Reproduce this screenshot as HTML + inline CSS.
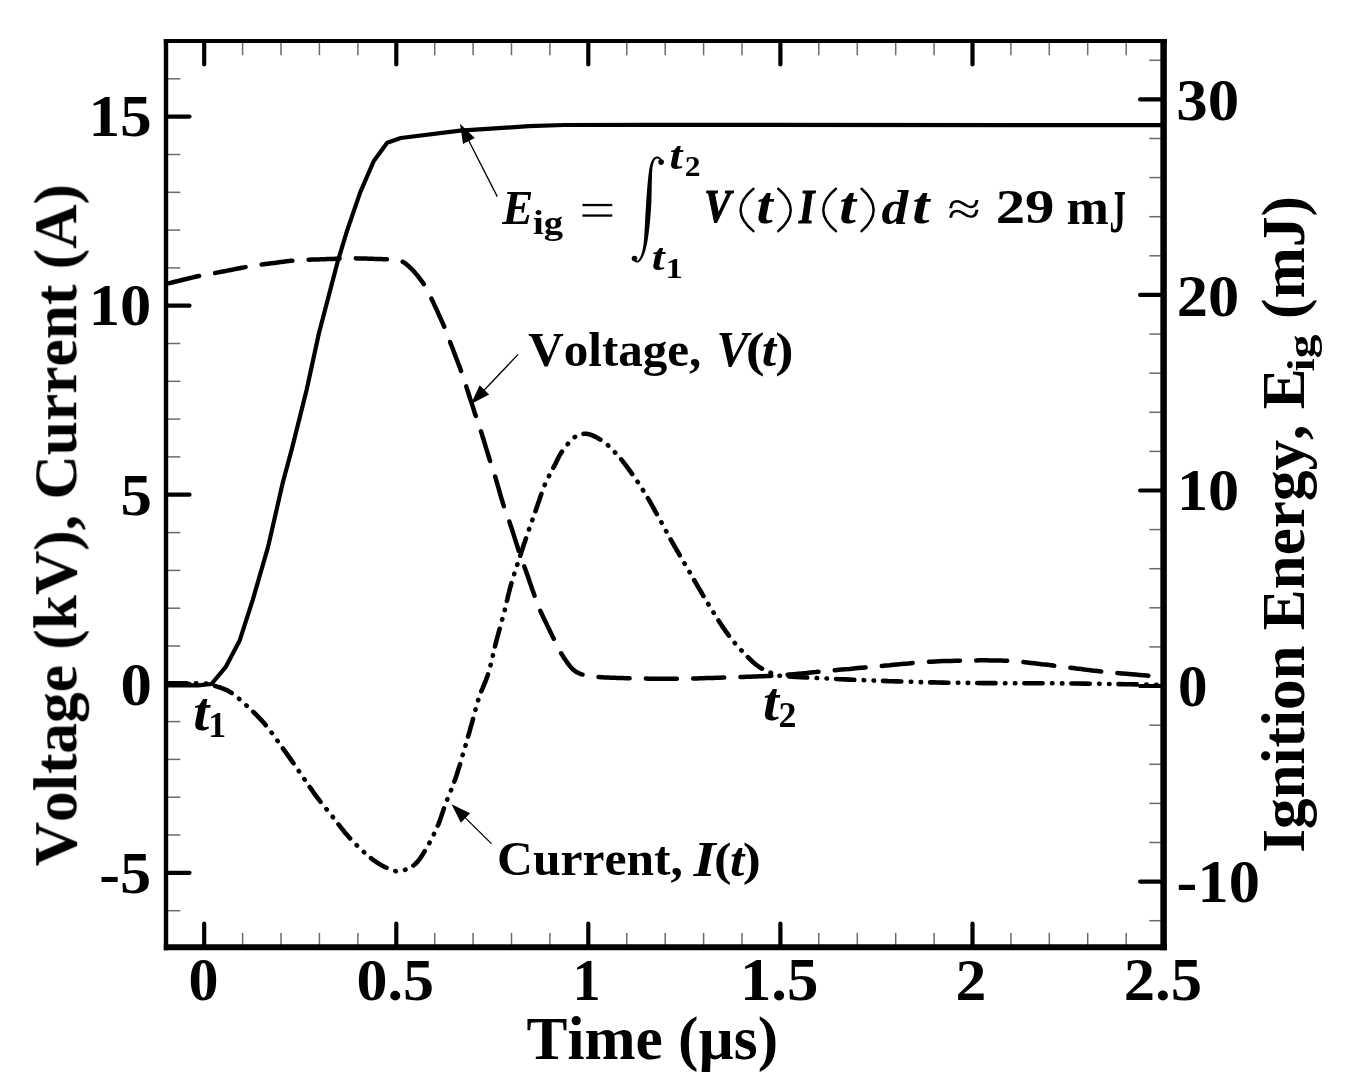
<!DOCTYPE html>
<html><head><meta charset="utf-8"><style>
html,body{margin:0;padding:0;background:#fff;width:1347px;height:1091px;overflow:hidden}
text{font-kerning:none}
</style></head><body>
<svg width="1347" height="1091" viewBox="0 0 1347 1091" style="display:block">
<rect width="1347" height="1091" fill="#fff"/>
<g stroke="#6a6a6a" stroke-width="1.5" fill="none">
<line x1="242.6" y1="947.2" x2="242.6" y2="932.9"/>
<line x1="242.6" y1="41.0" x2="242.6" y2="55.3"/>
<line x1="281.0" y1="947.2" x2="281.0" y2="932.9"/>
<line x1="281.0" y1="41.0" x2="281.0" y2="55.3"/>
<line x1="319.4" y1="947.2" x2="319.4" y2="932.9"/>
<line x1="319.4" y1="41.0" x2="319.4" y2="55.3"/>
<line x1="357.9" y1="947.2" x2="357.9" y2="932.9"/>
<line x1="357.9" y1="41.0" x2="357.9" y2="55.3"/>
<line x1="434.7" y1="947.2" x2="434.7" y2="932.9"/>
<line x1="434.7" y1="41.0" x2="434.7" y2="55.3"/>
<line x1="473.1" y1="947.2" x2="473.1" y2="932.9"/>
<line x1="473.1" y1="41.0" x2="473.1" y2="55.3"/>
<line x1="511.5" y1="947.2" x2="511.5" y2="932.9"/>
<line x1="511.5" y1="41.0" x2="511.5" y2="55.3"/>
<line x1="549.9" y1="947.2" x2="549.9" y2="932.9"/>
<line x1="549.9" y1="41.0" x2="549.9" y2="55.3"/>
<line x1="626.8" y1="947.2" x2="626.8" y2="932.9"/>
<line x1="626.8" y1="41.0" x2="626.8" y2="55.3"/>
<line x1="665.2" y1="947.2" x2="665.2" y2="932.9"/>
<line x1="665.2" y1="41.0" x2="665.2" y2="55.3"/>
<line x1="703.6" y1="947.2" x2="703.6" y2="932.9"/>
<line x1="703.6" y1="41.0" x2="703.6" y2="55.3"/>
<line x1="742.0" y1="947.2" x2="742.0" y2="932.9"/>
<line x1="742.0" y1="41.0" x2="742.0" y2="55.3"/>
<line x1="818.8" y1="947.2" x2="818.8" y2="932.9"/>
<line x1="818.8" y1="41.0" x2="818.8" y2="55.3"/>
<line x1="857.3" y1="947.2" x2="857.3" y2="932.9"/>
<line x1="857.3" y1="41.0" x2="857.3" y2="55.3"/>
<line x1="895.7" y1="947.2" x2="895.7" y2="932.9"/>
<line x1="895.7" y1="41.0" x2="895.7" y2="55.3"/>
<line x1="934.1" y1="947.2" x2="934.1" y2="932.9"/>
<line x1="934.1" y1="41.0" x2="934.1" y2="55.3"/>
<line x1="1010.9" y1="947.2" x2="1010.9" y2="932.9"/>
<line x1="1010.9" y1="41.0" x2="1010.9" y2="55.3"/>
<line x1="1049.3" y1="947.2" x2="1049.3" y2="932.9"/>
<line x1="1049.3" y1="41.0" x2="1049.3" y2="55.3"/>
<line x1="1087.7" y1="947.2" x2="1087.7" y2="932.9"/>
<line x1="1087.7" y1="41.0" x2="1087.7" y2="55.3"/>
<line x1="1126.2" y1="947.2" x2="1126.2" y2="932.9"/>
<line x1="1126.2" y1="41.0" x2="1126.2" y2="55.3"/>
<line x1="166.0" y1="910.7" x2="180.3" y2="910.7"/>
<line x1="166.0" y1="835.0" x2="180.3" y2="835.0"/>
<line x1="166.0" y1="797.2" x2="180.3" y2="797.2"/>
<line x1="166.0" y1="759.4" x2="180.3" y2="759.4"/>
<line x1="166.0" y1="721.6" x2="180.3" y2="721.6"/>
<line x1="166.0" y1="646.0" x2="180.3" y2="646.0"/>
<line x1="166.0" y1="608.2" x2="180.3" y2="608.2"/>
<line x1="166.0" y1="570.4" x2="180.3" y2="570.4"/>
<line x1="166.0" y1="532.6" x2="180.3" y2="532.6"/>
<line x1="166.0" y1="456.9" x2="180.3" y2="456.9"/>
<line x1="166.0" y1="419.1" x2="180.3" y2="419.1"/>
<line x1="166.0" y1="381.3" x2="180.3" y2="381.3"/>
<line x1="166.0" y1="343.5" x2="180.3" y2="343.5"/>
<line x1="166.0" y1="267.9" x2="180.3" y2="267.9"/>
<line x1="166.0" y1="230.1" x2="180.3" y2="230.1"/>
<line x1="166.0" y1="192.3" x2="180.3" y2="192.3"/>
<line x1="166.0" y1="154.5" x2="180.3" y2="154.5"/>
<line x1="166.0" y1="78.8" x2="180.3" y2="78.8"/>
<line x1="1163.6" y1="920.7" x2="1149.3" y2="920.7"/>
<line x1="1163.6" y1="842.5" x2="1149.3" y2="842.5"/>
<line x1="1163.6" y1="803.4" x2="1149.3" y2="803.4"/>
<line x1="1163.6" y1="764.3" x2="1149.3" y2="764.3"/>
<line x1="1163.6" y1="725.2" x2="1149.3" y2="725.2"/>
<line x1="1163.6" y1="646.9" x2="1149.3" y2="646.9"/>
<line x1="1163.6" y1="607.8" x2="1149.3" y2="607.8"/>
<line x1="1163.6" y1="568.7" x2="1149.3" y2="568.7"/>
<line x1="1163.6" y1="529.6" x2="1149.3" y2="529.6"/>
<line x1="1163.6" y1="451.4" x2="1149.3" y2="451.4"/>
<line x1="1163.6" y1="412.3" x2="1149.3" y2="412.3"/>
<line x1="1163.6" y1="373.2" x2="1149.3" y2="373.2"/>
<line x1="1163.6" y1="334.1" x2="1149.3" y2="334.1"/>
<line x1="1163.6" y1="255.8" x2="1149.3" y2="255.8"/>
<line x1="1163.6" y1="216.7" x2="1149.3" y2="216.7"/>
<line x1="1163.6" y1="177.6" x2="1149.3" y2="177.6"/>
<line x1="1163.6" y1="138.5" x2="1149.3" y2="138.5"/>
<line x1="1163.6" y1="60.3" x2="1149.3" y2="60.3"/>
</g>
<g stroke="#000" stroke-width="4.2" stroke-linecap="round" fill="none">
<line x1="204.2" y1="947.2" x2="204.2" y2="923.7"/>
<line x1="204.2" y1="41.0" x2="204.2" y2="64.5"/>
<line x1="396.3" y1="947.2" x2="396.3" y2="923.7"/>
<line x1="396.3" y1="41.0" x2="396.3" y2="64.5"/>
<line x1="588.3" y1="947.2" x2="588.3" y2="923.7"/>
<line x1="588.3" y1="41.0" x2="588.3" y2="64.5"/>
<line x1="780.4" y1="947.2" x2="780.4" y2="923.7"/>
<line x1="780.4" y1="41.0" x2="780.4" y2="64.5"/>
<line x1="972.5" y1="947.2" x2="972.5" y2="923.7"/>
<line x1="972.5" y1="41.0" x2="972.5" y2="64.5"/>
<line x1="166.0" y1="872.8" x2="189.5" y2="872.8"/>
<line x1="166.0" y1="683.8" x2="189.5" y2="683.8"/>
<line x1="166.0" y1="494.7" x2="189.5" y2="494.7"/>
<line x1="166.0" y1="305.7" x2="189.5" y2="305.7"/>
<line x1="166.0" y1="116.6" x2="189.5" y2="116.6"/>
<line x1="1163.6" y1="881.6" x2="1140.1" y2="881.6"/>
<line x1="1163.6" y1="686.0" x2="1140.1" y2="686.0"/>
<line x1="1163.6" y1="490.5" x2="1140.1" y2="490.5"/>
<line x1="1163.6" y1="294.9" x2="1140.1" y2="294.9"/>
<line x1="1163.6" y1="99.4" x2="1140.1" y2="99.4"/>
</g>
<g fill="none" stroke="#000" stroke-linejoin="round">
<polyline points="166.0,685.4 198.0,685.4 211.5,684.0 225.6,667.2 239.8,640.2 252.6,600.4 268.2,546.4 282.5,483.8 292.4,446.9 306.6,390.0 318.8,333.7 337.5,262.2 347.1,230.6 360.3,192.1 373.8,161.0 387.2,142.7 400.8,138.0 460.2,130.6 528.5,126.2 564.1,125.0 650.0,124.9 1163.6,125.1" stroke-width="4.2"/>
<polyline points="166.0,284.0 167.6,283.6 169.6,283.1 172.1,282.5 174.9,281.8 177.8,281.1 181.0,280.3 184.1,279.5 187.2,278.8 190.2,278.0 193.0,277.4 195.5,276.8 197.6,276.3 199.3,275.9 200.7,275.6 201.8,275.4 202.7,275.2 203.5,275.1 204.3,275.0 205.0,274.9 205.8,274.7 206.8,274.6 207.9,274.4 209.4,274.1 211.1,273.8 213.2,273.4 215.7,272.9 218.4,272.4 221.3,271.8 224.4,271.2 227.5,270.6 230.7,270.0 233.8,269.4 236.7,268.8 239.4,268.3 241.9,267.8 244.0,267.4 245.7,267.1 247.1,266.8 248.3,266.6 249.2,266.4 250.0,266.3 250.7,266.1 251.4,266.0 252.2,265.9 253.2,265.7 254.3,265.6 255.7,265.3 257.5,265.1 259.7,264.8 262.2,264.5 265.0,264.1 268.0,263.7 271.1,263.3 274.3,262.9 277.6,262.5 280.7,262.1 283.7,261.7 286.5,261.3 289.0,261.0 291.2,260.8 293.0,260.6 294.4,260.5 295.6,260.3 296.5,260.3 297.3,260.2 298.1,260.2 298.8,260.1 299.6,260.1 300.5,260.1 301.7,260.0 303.1,260.0 304.8,259.9 306.9,259.8 309.4,259.7 312.1,259.6 315.0,259.5 318.0,259.4 321.2,259.3 324.3,259.2 327.3,259.1 330.2,259.0 333.0,258.9 335.4,258.8 337.6,258.7 339.4,258.6 340.8,258.6 342.0,258.5 343.0,258.5 343.9,258.4 344.7,258.4 345.6,258.3 346.4,258.3 347.5,258.3 348.7,258.3 350.2,258.3 352.0,258.3 354.2,258.3 356.7,258.4 359.5,258.4 362.6,258.5 365.7,258.6 368.9,258.7 372.1,258.8 375.3,258.9 378.3,259.0 381.1,259.1 383.6,259.2 385.8,259.3 387.7,259.4 389.3,259.4 390.8,259.4 392.1,259.4 393.2,259.4 394.3,259.4 395.3,259.5 396.2,259.6 397.1,259.7 398.0,259.9 399.0,260.1 400.0,260.5 401.1,260.9 402.1,261.4 403.1,262.0 404.1,262.6 405.0,263.2 406.0,263.9 406.9,264.7 407.8,265.5 408.8,266.3 409.7,267.2 410.6,268.1 411.6,269.0 412.6,270.0 413.6,271.1 414.6,272.2 415.6,273.4 416.7,274.6 417.7,275.9 418.7,277.2 419.7,278.4 420.6,279.7 421.5,280.9 422.4,282.1 423.2,283.3 423.9,284.4 424.6,285.3 425.1,286.2 425.6,287.0 426.1,287.8 426.6,288.7 427.0,289.6 427.5,290.6 428.1,291.7 428.7,292.9 429.4,294.3 430.2,296.0 431.1,297.9 432.2,300.2 433.4,302.6 434.6,305.3 435.9,308.1 437.2,310.9 438.4,313.7 439.7,316.5 440.9,319.2 442.0,321.7 443.0,323.9 443.9,325.9 444.6,327.6 445.2,328.9 445.7,330.1 446.1,331.0 446.4,331.9 446.7,332.7 447.0,333.5 447.3,334.4 447.6,335.4 448.0,336.5 448.6,337.9 449.2,339.6 450.0,341.6 450.8,343.9 451.8,346.5 452.9,349.2 453.9,352.0 455.0,354.9 456.1,357.8 457.2,360.6 458.2,363.3 459.2,365.9 460.1,368.2 460.8,370.2 461.4,371.9 461.9,373.3 462.3,374.4 462.7,375.4 462.9,376.3 463.2,377.1 463.5,377.8 463.7,378.7 464.0,379.7 464.4,380.8 464.9,382.2 465.4,383.9 466.1,385.9 466.8,388.2 467.6,390.7 468.5,393.5 469.4,396.3 470.3,399.2 471.3,402.0 472.2,404.9 473.1,407.6 473.9,410.1 474.6,412.5 475.3,414.5 475.9,416.2 476.4,417.6 476.8,418.8 477.1,419.9 477.5,420.8 477.8,421.6 478.1,422.5 478.4,423.4 478.8,424.4 479.2,425.6 479.6,427.1 480.2,428.8 480.8,430.9 481.6,433.2 482.4,435.8 483.2,438.5 484.1,441.4 485.0,444.3 485.8,447.2 486.7,450.1 487.6,452.8 488.3,455.4 489.1,457.8 489.7,459.8 490.2,461.5 490.7,462.9 491.1,464.1 491.5,465.1 491.8,466.0 492.1,466.9 492.4,467.7 492.7,468.6 493.0,469.6 493.4,470.8 493.9,472.2 494.4,473.9 495.0,475.9 495.7,478.3 496.4,480.8 497.2,483.6 498.0,486.4 498.9,489.3 499.7,492.3 500.5,495.1 501.3,497.9 502.1,500.4 502.8,502.8 503.4,504.8 503.9,506.5 504.4,507.9 504.8,509.0 505.1,509.9 505.5,510.8 505.8,511.5 506.1,512.3 506.5,513.2 506.9,514.2 507.3,515.5 507.9,517.0 508.5,518.9 509.3,521.2 510.1,523.9 511.1,527.0 512.2,530.2 513.3,533.7 514.4,537.1 515.5,540.6 516.6,544.0 517.6,547.2 518.5,550.1 519.4,552.7 520.1,554.9 520.7,556.6 521.1,557.9 521.4,558.8 521.7,559.5 521.9,560.0 522.1,560.4 522.3,560.8 522.4,561.2 522.7,561.8 523.0,562.6 523.4,563.7 523.9,565.1 524.5,566.9 525.3,569.1 526.1,571.5 527.0,574.1 528.0,576.8 529.0,579.7 529.9,582.5 530.9,585.3 531.8,587.9 532.7,590.4 533.5,592.7 534.2,594.7 534.8,596.4 535.3,597.8 535.7,599.0 536.0,600.0 536.3,600.9 536.6,601.8 536.9,602.6 537.2,603.5 537.6,604.6 538.1,605.7 538.7,607.1 539.4,608.8 540.3,610.8 541.3,613.0 542.5,615.5 543.7,618.1 545.0,620.8 546.4,623.6 547.7,626.4 549.0,629.1 550.3,631.7 551.5,634.2 552.6,636.4 553.5,638.3 554.3,639.9 555.0,641.4 555.5,642.6 556.0,643.7 556.4,644.7 556.9,645.5 557.3,646.4 557.7,647.2 558.1,648.1 558.6,649.0 559.2,650.0 559.9,651.2 560.7,652.5 561.5,653.9 562.5,655.3 563.4,656.9 564.4,658.4 565.5,660.0 566.5,661.5 567.5,663.0 568.6,664.4 569.6,665.7 570.6,666.9 571.5,667.9 572.4,668.8 573.2,669.6 574.1,670.3 574.9,670.9 575.6,671.5 576.4,672.0 577.2,672.4 578.1,672.8 578.9,673.2 579.8,673.6 580.7,673.9 581.7,674.3 582.7,674.6 583.7,675.0 584.7,675.2 585.8,675.5 586.8,675.7 587.9,675.9 589.1,676.0 590.3,676.2 591.6,676.4 592.9,676.5 594.4,676.6 595.9,676.8 597.5,676.9 599.2,677.1 600.9,677.2 602.6,677.3 604.4,677.4 606.3,677.5 608.3,677.6 610.4,677.7 612.6,677.8 614.9,677.8 617.4,677.9 620.0,678.0 622.8,678.1 625.7,678.2 628.9,678.3 632.2,678.3 635.5,678.4 639.0,678.5 642.5,678.6 646.1,678.6 649.6,678.7 653.1,678.7 656.6,678.8 660.0,678.8 663.3,678.8 666.7,678.8 670.0,678.8 673.3,678.8 676.7,678.7 680.0,678.7 683.3,678.6 686.7,678.6 690.0,678.5 693.3,678.4 696.7,678.4 700.0,678.3 703.3,678.2 706.7,678.1 710.0,678.0 713.3,677.9 716.6,677.8 719.9,677.7 723.2,677.6 726.6,677.5 729.9,677.4 733.3,677.3 736.6,677.1 740.0,677.0 743.4,676.9 746.7,676.8 750.0,676.7 753.3,676.5 756.6,676.4 759.9,676.3 763.3,676.2 766.7,676.0 770.2,675.9 773.8,675.7 777.5,675.5 781.3,675.2 785.3,674.9 789.3,674.6 793.6,674.2 797.9,673.8 802.3,673.4 806.7,673.0 811.1,672.5 815.6,672.1 820.0,671.6 824.4,671.2 828.8,670.8 833.0,670.4 837.2,670.0 841.3,669.6 845.5,669.2 849.6,668.9 853.7,668.5 857.8,668.1 861.8,667.7 865.9,667.4 869.9,667.0 873.9,666.6 877.9,666.3 881.8,665.9 885.7,665.5 889.6,665.2 893.4,664.8 897.2,664.4 901.0,664.1 904.8,663.7 908.6,663.4 912.3,663.0 916.1,662.7 919.8,662.4 923.6,662.1 927.4,661.9 931.3,661.7 935.2,661.5 939.2,661.3 943.2,661.1 947.2,661.0 951.2,660.9 955.1,660.8 959.0,660.7 962.7,660.6 966.4,660.5 969.8,660.5 973.1,660.4 976.2,660.4 979.2,660.3 982.0,660.3 984.7,660.3 987.3,660.3 989.8,660.4 992.3,660.4 994.6,660.4 996.9,660.5 999.1,660.6 1001.3,660.6 1003.5,660.7 1005.5,660.8 1007.3,660.8 1009.0,660.9 1010.5,661.0 1011.9,661.1 1013.4,661.1 1014.9,661.3 1016.5,661.4 1018.2,661.5 1020.1,661.7 1022.3,661.9 1024.8,662.2 1027.6,662.5 1030.8,662.9 1034.2,663.3 1037.8,663.7 1041.5,664.2 1045.4,664.6 1049.3,665.1 1053.2,665.6 1057.0,666.1 1060.7,666.6 1064.2,667.0 1067.5,667.4 1070.6,667.8 1073.4,668.1 1076.1,668.5 1078.8,668.8 1081.3,669.1 1083.8,669.4 1086.4,669.8 1089.0,670.1 1091.7,670.4 1094.6,670.7 1097.6,671.1 1100.9,671.4 1104.5,671.8 1108.5,672.2 1112.8,672.6 1117.3,673.0 1121.9,673.4 1126.5,673.8 1131.0,674.2 1135.4,674.6 1139.5,675.0 1143.3,675.3 1146.7,675.6 1149.6,675.9 1152.0,676.1 1154.1,676.3 1155.9,676.5 1157.4,676.6 1158.6,676.7 1159.6,676.8 1160.5,676.9 1161.3,677.0 1161.9,677.0 1162.5,677.1 1163.0,677.1 1163.6,677.2" stroke-width="4.5" stroke-linecap="round" stroke-dasharray="31.0 16.3" stroke-dashoffset="44.25"/>
<polyline points="166.0,683.4 167.9,683.4 170.5,683.4 173.6,683.4 177.0,683.3 180.7,683.3 184.6,683.3 188.5,683.3 192.3,683.3 195.9,683.3 199.2,683.3 202.0,683.3 204.2,683.4 205.9,683.5 207.2,683.5 208.1,683.6 208.7,683.6 209.1,683.7 209.4,683.8 209.6,683.9 209.8,684.1 210.1,684.2 210.5,684.4 211.1,684.7 212.0,685.0 213.1,685.3 214.3,685.7 215.7,686.1 217.1,686.6 218.5,687.0 220.1,687.5 221.6,688.1 223.2,688.6 224.7,689.3 226.2,689.9 227.7,690.6 229.1,691.4 230.4,692.2 231.7,693.0 233.0,693.9 234.3,694.8 235.5,695.8 236.7,696.8 238.0,697.9 239.3,699.0 240.5,700.1 241.9,701.3 243.3,702.6 244.7,703.9 246.2,705.3 247.8,706.7 249.4,708.2 251.0,709.7 252.7,711.3 254.4,713.0 256.1,714.7 257.8,716.4 259.4,718.1 261.1,719.9 262.8,721.7 264.4,723.6 266.0,725.5 267.6,727.5 269.2,729.6 270.9,731.7 272.5,733.9 274.1,736.0 275.6,738.2 277.2,740.4 278.7,742.5 280.2,744.6 281.7,746.6 283.1,748.6 284.4,750.5 285.7,752.2 286.9,754.0 288.1,755.6 289.3,757.3 290.4,758.9 291.5,760.5 292.7,762.2 293.9,763.9 295.1,765.6 296.4,767.5 297.7,769.4 299.1,771.5 300.6,773.6 302.1,775.9 303.7,778.2 305.3,780.5 306.9,782.9 308.5,785.3 310.2,787.6 311.8,789.9 313.4,792.2 314.9,794.3 316.4,796.4 317.9,798.4 319.3,800.2 320.7,802.0 322.1,803.8 323.5,805.5 324.8,807.2 326.2,808.8 327.5,810.5 328.9,812.1 330.3,813.8 331.6,815.5 333.0,817.2 334.4,818.9 335.7,820.7 337.1,822.4 338.4,824.2 339.7,825.9 341.1,827.7 342.5,829.4 343.8,831.1 345.2,832.9 346.7,834.6 348.2,836.3 349.7,838.0 351.3,839.7 353.0,841.5 354.7,843.2 356.5,845.0 358.2,846.8 360.0,848.5 361.9,850.2 363.6,851.9 365.4,853.5 367.1,855.0 368.8,856.4 370.4,857.7 371.9,858.9 373.5,860.1 375.0,861.1 376.4,862.1 377.9,863.1 379.3,863.9 380.6,864.8 382.0,865.5 383.3,866.2 384.6,866.9 385.9,867.5 387.1,868.1 388.3,868.6 389.4,869.1 390.5,869.6 391.5,870.0 392.5,870.4 393.4,870.7 394.4,870.9 395.4,871.1 396.3,871.3 397.4,871.3 398.4,871.3 399.5,871.2 400.7,871.0 401.9,870.8 403.1,870.5 404.4,870.1 405.6,869.6 406.9,869.1 408.2,868.6 409.5,868.0 410.7,867.3 411.9,866.6 413.0,865.8 414.1,865.0 415.1,864.2 416.1,863.3 416.9,862.4 417.8,861.4 418.6,860.4 419.4,859.4 420.2,858.2 421.0,857.0 421.9,855.8 422.7,854.4 423.6,853.0 424.5,851.5 425.5,849.9 426.5,848.1 427.6,846.2 428.7,844.3 429.8,842.2 430.9,840.1 432.0,838.0 433.1,835.9 434.1,833.7 435.1,831.6 436.1,829.6 437.0,827.6 437.8,825.7 438.6,823.8 439.3,821.9 440.0,820.0 440.6,818.2 441.3,816.3 441.9,814.5 442.5,812.6 443.2,810.7 443.8,808.7 444.5,806.7 445.3,804.7 446.1,802.6 446.9,800.4 447.8,798.2 448.7,796.0 449.6,793.7 450.5,791.5 451.4,789.2 452.3,786.9 453.2,784.5 454.1,782.2 454.9,780.0 455.7,777.7 456.5,775.5 457.2,773.2 457.9,771.0 458.6,768.8 459.3,766.6 460.0,764.3 460.6,762.1 461.3,759.9 462.0,757.6 462.6,755.3 463.3,753.0 464.0,750.7 464.7,748.3 465.4,745.9 466.1,743.5 466.8,741.0 467.5,738.5 468.2,736.0 469.0,733.5 469.7,731.0 470.3,728.6 471.0,726.2 471.7,723.9 472.3,721.6 472.9,719.4 473.5,717.3 474.0,715.2 474.6,713.1 475.1,711.1 475.6,709.1 476.1,707.2 476.7,705.2 477.2,703.3 477.8,701.3 478.4,699.4 479.0,697.4 479.7,695.5 480.4,693.6 481.1,691.7 481.9,689.9 482.7,688.1 483.4,686.3 484.2,684.4 485.0,682.5 485.8,680.6 486.5,678.6 487.3,676.5 488.0,674.3 488.7,672.0 489.4,669.6 490.0,667.1 490.7,664.5 491.3,661.9 491.9,659.2 492.6,656.5 493.2,653.9 493.8,651.2 494.4,648.6 495.1,646.0 495.7,643.5 496.3,641.1 497.0,638.7 497.6,636.3 498.3,634.0 498.9,631.7 499.5,629.4 500.2,627.0 500.8,624.7 501.5,622.4 502.1,620.0 502.8,617.6 503.4,615.2 504.0,612.7 504.7,610.2 505.3,607.6 505.9,605.0 506.5,602.4 507.2,599.8 507.8,597.2 508.4,594.6 509.1,592.0 509.7,589.4 510.4,586.9 511.1,584.4 511.8,581.9 512.5,579.5 513.3,577.0 514.1,574.6 514.8,572.2 515.6,569.8 516.4,567.4 517.1,565.1 517.9,562.8 518.7,560.5 519.4,558.3 520.1,556.1 520.8,554.0 521.4,552.0 522.1,550.0 522.7,548.1 523.3,546.2 523.9,544.4 524.6,542.5 525.2,540.7 525.8,538.8 526.5,536.9 527.1,535.0 527.8,533.0 528.5,530.9 529.2,528.8 530.0,526.7 530.8,524.5 531.5,522.3 532.3,520.1 533.1,517.9 533.8,515.7 534.6,513.5 535.4,511.4 536.1,509.3 536.8,507.3 537.5,505.3 538.1,503.4 538.8,501.5 539.4,499.6 540.0,497.7 540.6,495.9 541.3,494.1 541.9,492.3 542.5,490.6 543.2,488.9 543.8,487.2 544.5,485.5 545.2,483.9 545.9,482.3 546.7,480.7 547.4,479.2 548.2,477.7 548.9,476.2 549.7,474.7 550.5,473.3 551.2,471.8 552.0,470.4 552.7,468.9 553.5,467.5 554.2,466.1 555.0,464.6 555.7,463.2 556.4,461.7 557.1,460.3 557.8,458.9 558.5,457.5 559.2,456.1 560.0,454.8 560.8,453.4 561.6,452.1 562.5,450.8 563.4,449.5 564.4,448.2 565.4,446.8 566.5,445.5 567.6,444.2 568.7,442.9 569.8,441.6 570.9,440.5 572.0,439.4 573.1,438.4 574.2,437.5 575.3,436.7 576.4,436.0 577.4,435.5 578.5,435.0 579.5,434.6 580.5,434.3 581.6,434.0 582.6,433.9 583.7,433.8 584.8,433.8 585.9,433.8 587.0,433.9 588.2,434.1 589.4,434.4 590.7,434.8 592.0,435.2 593.3,435.8 594.6,436.4 596.0,437.1 597.3,437.9 598.7,438.6 600.0,439.4 601.2,440.2 602.5,441.0 603.6,441.8 604.7,442.6 605.7,443.3 606.7,444.1 607.6,444.9 608.5,445.8 609.4,446.6 610.3,447.5 611.2,448.4 612.1,449.3 613.0,450.3 613.9,451.3 614.9,452.3 615.9,453.4 616.8,454.4 617.8,455.5 618.8,456.6 619.8,457.7 620.8,458.9 621.8,460.1 622.8,461.4 623.8,462.7 624.9,464.1 626.0,465.5 627.2,467.1 628.4,468.8 629.7,470.5 631.0,472.4 632.4,474.3 633.8,476.3 635.2,478.3 636.6,480.4 638.0,482.4 639.4,484.5 640.7,486.6 642.0,488.6 643.3,490.6 644.5,492.6 645.7,494.5 646.8,496.4 648.0,498.3 649.1,500.2 650.2,502.2 651.3,504.1 652.4,506.1 653.5,508.0 654.6,510.1 655.7,512.1 656.9,514.2 658.1,516.4 659.3,518.6 660.6,520.8 661.8,523.1 663.1,525.5 664.3,527.8 665.6,530.1 666.9,532.5 668.1,534.8 669.4,537.0 670.6,539.3 671.8,541.4 673.0,543.5 674.1,545.5 675.3,547.5 676.4,549.5 677.6,551.5 678.7,553.4 679.8,555.3 680.9,557.2 682.0,559.1 683.1,561.0 684.3,563.0 685.4,564.9 686.5,566.9 687.7,568.8 688.8,570.7 689.9,572.7 691.0,574.6 692.1,576.6 693.2,578.5 694.4,580.5 695.5,582.4 696.7,584.4 697.8,586.4 699.0,588.4 700.2,590.4 701.4,592.5 702.6,594.6 703.9,596.7 705.1,598.8 706.4,600.9 707.6,603.0 708.9,605.1 710.2,607.2 711.4,609.2 712.7,611.2 713.9,613.2 715.1,615.2 716.4,617.1 717.6,619.0 718.8,621.0 720.1,622.9 721.3,624.8 722.5,626.6 723.8,628.5 725.0,630.2 726.2,632.0 727.5,633.7 728.7,635.4 729.9,637.0 731.2,638.6 732.4,640.2 733.7,641.7 734.9,643.2 736.1,644.6 737.4,646.1 738.6,647.5 739.9,648.8 741.1,650.2 742.4,651.5 743.6,652.8 744.8,654.1 746.1,655.4 747.3,656.6 748.5,657.8 749.8,659.0 751.0,660.2 752.2,661.4 753.5,662.5 754.7,663.5 755.9,664.5 757.2,665.5 758.4,666.4 759.7,667.3 761.0,668.1 762.3,668.8 763.6,669.5 765.0,670.2 766.3,670.8 767.6,671.4 768.8,672.0 770.1,672.5 771.2,672.9 772.3,673.4 773.3,673.8 774.1,674.2 774.5,674.4 774.7,674.7 774.7,674.9 774.8,675.0 774.8,675.1 775.0,675.2 775.4,675.3 776.2,675.4 777.3,675.6 779.0,675.7 781.3,675.9 784.2,676.1 787.8,676.4 791.8,676.6 796.2,676.9 801.0,677.2 806.0,677.5 811.1,677.7 816.3,678.0 821.5,678.3 826.6,678.5 831.5,678.8 836.1,679.0 840.5,679.2 844.9,679.4 849.2,679.6 853.5,679.8 857.7,680.0 862.0,680.1 866.3,680.3 870.5,680.5 874.8,680.6 879.1,680.8 883.5,680.9 887.9,681.1 892.3,681.2 896.8,681.4 901.2,681.5 905.7,681.7 910.2,681.8 914.7,681.9 919.2,682.1 923.8,682.2 928.4,682.3 933.1,682.4 937.8,682.5 942.6,682.6 947.5,682.7 952.4,682.8 957.4,682.8 962.4,682.9 967.5,682.9 972.7,683.0 977.8,683.0 983.0,683.1 988.1,683.1 993.3,683.1 998.4,683.2 1003.5,683.2 1008.5,683.2 1013.5,683.2 1018.4,683.3 1023.2,683.3 1028.1,683.3 1033.0,683.3 1037.9,683.3 1043.0,683.3 1048.1,683.3 1053.4,683.3 1058.8,683.4 1064.4,683.4 1070.4,683.5 1076.8,683.5 1083.6,683.6 1090.6,683.7 1097.7,683.8 1104.8,683.9 1111.8,684.0 1118.5,684.1 1124.8,684.2 1130.7,684.3 1136.0,684.4 1140.5,684.5 1144.4,684.6 1147.7,684.6 1150.5,684.7 1153.0,684.7 1155.1,684.8 1156.8,684.8 1158.3,684.9 1159.6,684.9 1160.7,684.9 1161.7,685.0 1162.7,685.0 1163.6,685.0" stroke-width="4.6" stroke-linecap="round" stroke-dasharray="18.3 9.4 0.5 9.4 0.5 9.0" stroke-dashoffset="44.93"/>
</g>
<g stroke="#000" fill="none">
<line x1="166.0" y1="39.0" x2="166.0" y2="950.2" stroke-width="4.4"/>
<line x1="163.8" y1="41.0" x2="1166.8" y2="41.0" stroke-width="4.0"/>
<line x1="1163.6" y1="39.0" x2="1163.6" y2="950.2" stroke-width="6.5"/>
<line x1="163.8" y1="947.2" x2="1166.8" y2="947.2" stroke-width="6.0"/>
</g>
<line x1="497.3" y1="196.6" x2="468.0" y2="139.3" stroke="#000" stroke-width="1.3"/><polygon points="460.0,123.7 474.8,138.1 463.0,144.1" fill="#000"/>
<line x1="518.1" y1="354.4" x2="483.1" y2="391.3" stroke="#000" stroke-width="1.3"/><polygon points="471.0,404.0 479.6,385.3 489.2,394.4" fill="#000"/>
<line x1="491.4" y1="843.6" x2="464.1" y2="816.6" stroke="#000" stroke-width="1.3"/><polygon points="451.6,804.3 470.1,813.3 460.8,822.7" fill="#000"/>
<g style="opacity:0.999">
<text transform="translate(88.42,136.42) scale(1.0645,1)" font-family="Liberation Serif" font-weight="bold" font-style="normal" font-size="59.56" >15</text>
<text transform="translate(88.70,325.22) scale(1.0437,1)" font-family="Liberation Serif" font-weight="bold" font-style="normal" font-size="59.87" >10</text>
<text transform="translate(120.38,514.62) scale(1.0518,1)" font-family="Liberation Serif" font-weight="bold" font-style="normal" font-size="59.74" >5</text>
<text transform="translate(120.51,704.60) scale(1.0181,1)" font-family="Liberation Serif" font-weight="bold" font-style="normal" font-size="61.65" >0</text>
<text transform="translate(99.22,892.52) scale(1.0421,1)" font-family="Liberation Serif" font-weight="bold" font-style="normal" font-size="59.74" >-5</text>
<text transform="translate(1176.34,119.52) scale(1.0499,1)" font-family="Liberation Serif" font-weight="bold" font-style="normal" font-size="59.87" >30</text>
<text transform="translate(1176.78,315.52) scale(1.0422,1)" font-family="Liberation Serif" font-weight="bold" font-style="normal" font-size="59.87" >20</text>
<text transform="translate(1176.91,510.31) scale(1.0373,1)" font-family="Liberation Serif" font-weight="bold" font-style="normal" font-size="60.02" >10</text>
<text transform="translate(1177.95,706.12) scale(0.9853,1)" font-family="Liberation Serif" font-weight="bold" font-style="normal" font-size="59.87" >0</text>
<text transform="translate(1176.61,902.11) scale(1.0344,1)" font-family="Liberation Serif" font-weight="bold" font-style="normal" font-size="60.46" >-10</text>
<text transform="translate(188.42,1000.21) scale(0.9912,1)" font-family="Liberation Serif" font-weight="bold" font-style="normal" font-size="60.46" >0</text>
<text transform="translate(356.44,999.95) scale(1.0312,1)" font-family="Liberation Serif" font-weight="bold" font-style="normal" font-size="60.07" >0.5</text>
<text transform="translate(572.38,1000.00) scale(0.9466,1)" font-family="Liberation Serif" font-weight="bold" font-style="normal" font-size="59.68" >1</text>
<text transform="translate(739.97,999.94) scale(1.0383,1)" font-family="Liberation Serif" font-weight="bold" font-style="normal" font-size="60.51" >1.5</text>
<text transform="translate(955.51,1000.00) scale(1.0313,1)" font-family="Liberation Serif" font-weight="bold" font-style="normal" font-size="59.81" >2</text>
<text transform="translate(1123.67,999.95) scale(1.0386,1)" font-family="Liberation Serif" font-weight="bold" font-style="normal" font-size="60.33" >2.5</text>
<text transform="translate(526.54,1058.60) scale(0.9973,1)" font-family="Liberation Serif" font-weight="bold" font-style="normal" font-size="61.50" >Time (µs)</text>
<text transform="rotate(-90,0,0) translate(-866.29,76.20) scale(0.9908,1)" font-family="Liberation Serif" font-weight="bold" font-style="normal" font-size="62.00" >Voltage (kV), Current (A)</text>
<g transform="rotate(-90)"><text id="rt1" transform="translate(-852.86,1304.40) scale(0.9869,1)" font-family="Liberation Serif" font-weight="bold" font-style="normal" font-size="62.00" >Ignition Energy, E</text></g>
<text transform="translate(528.35,366.40) scale(0.9911,1)" font-family="Liberation Serif" font-weight="bold" font-style="normal" font-size="49.50" >Voltage,</text>
<text transform="translate(497.08,875.30) scale(1.0018,1)" font-family="Liberation Serif" font-weight="bold" font-style="normal" font-size="49.50" >Current,</text>
<text transform="translate(716.40,366.05) scale(0.9609,1)" font-family="Liberation Serif" font-weight="bold" font-style="italic" font-size="49.71" >V</text>
<text transform="translate(745.80,365.98) scale(1.1959,1)" font-family="Liberation Serif" font-weight="bold" font-style="normal" font-size="47.53" >(</text>
<text transform="translate(761.83,366.40) scale(1.0455,1)" font-family="Liberation Serif" font-weight="bold" font-style="italic" font-size="49.50" >t</text>
<text transform="translate(775.13,365.98) scale(1.1550,1)" font-family="Liberation Serif" font-weight="bold" font-style="normal" font-size="47.53" >)</text>
<text transform="translate(693.56,875.70) scale(1.1436,1)" font-family="Liberation Serif" font-weight="bold" font-style="italic" font-size="49.94" >I</text>
<text transform="translate(714.09,875.10) scale(1.1188,1)" font-family="Liberation Serif" font-weight="bold" font-style="normal" font-size="46.98" >(</text>
<text transform="translate(729.94,875.50) scale(1.0381,1)" font-family="Liberation Serif" font-weight="bold" font-style="italic" font-size="49.50" >t</text>
<text transform="translate(742.74,875.10) scale(1.1602,1)" font-family="Liberation Serif" font-weight="bold" font-style="normal" font-size="46.98" >)</text>
<text transform="translate(193.36,729.77) scale(1.0612,1)" font-family="Liberation Serif" font-weight="bold" font-style="italic" font-size="54.30" >t</text>
<text transform="translate(208.23,737.40) scale(0.9945,1)" font-family="Liberation Serif" font-weight="bold" font-style="normal" font-size="36.05" >1</text>
<text transform="translate(763.07,720.46) scale(1.0444,1)" font-family="Liberation Serif" font-weight="bold" font-style="italic" font-size="54.82" >t</text>
<text transform="translate(778.49,727.10) scale(1.0115,1)" font-family="Liberation Serif" font-weight="bold" font-style="normal" font-size="35.49" >2</text>
<g transform="rotate(-90)"><text transform="translate(-371.44,1314.11) scale(1.2293,1)" font-family="Liberation Serif" font-weight="bold" font-style="normal" font-size="38.49" >ig</text></g>
<g transform="rotate(-90)"><text transform="translate(-319.11,1304.20) scale(0.9933,1)" font-family="Liberation Serif" font-weight="bold" font-style="normal" font-size="62.00" >(mJ)</text></g>
<text transform="translate(502.24,223.60) scale(0.9506,1)" font-family="Liberation Serif" font-weight="bold" font-style="italic" font-size="49.18" >E</text>
<text transform="translate(533.05,234.02) scale(1.1282,1)" font-family="Liberation Serif" font-weight="bold" font-style="normal" font-size="34.33" >ig</text>
<rect x="582.4" y="203.9" width="29.9" height="2.3" fill="#000"/><rect x="582.4" y="214.4" width="29.9" height="2.3" fill="#000"/>
<path d="M662.26,161.40 L662.17,161.20 L662.06,160.93 L661.92,160.59 L661.75,160.19 L661.57,159.76 L661.36,159.32 L661.13,158.87 L660.87,158.44 L660.57,158.04 L660.23,157.69 L659.88,157.42 L659.53,157.19 L659.15,156.99 L658.76,156.82 L658.34,156.68 L657.91,156.57 L657.47,156.51 L657.02,156.50 L656.55,156.54 L656.10,156.64 L655.69,156.78 L655.29,156.96 L654.88,157.17 L654.46,157.42 L654.06,157.72 L653.65,158.07 L653.26,158.46 L652.88,158.91 L652.52,159.42 L652.19,159.96 L651.88,160.54 L651.58,161.13 L651.30,161.77 L651.02,162.46 L650.76,163.19 L650.50,163.97 L650.25,164.82 L650.01,165.73 L649.78,166.71 L649.56,167.77 L649.34,168.89 L649.15,170.06 L648.97,171.28 L648.79,172.55 L648.62,173.90 L648.46,175.31 L648.29,176.81 L648.12,178.40 L647.95,180.08 L647.76,181.87 L647.57,183.81 L647.38,185.91 L647.19,188.13 L647.01,190.44 L646.83,192.82 L646.66,195.25 L646.49,197.69 L646.33,200.12 L646.17,202.52 L646.02,204.85 L645.86,207.17 L645.71,209.55 L645.57,211.95 L645.43,214.37 L645.30,216.76 L645.18,219.13 L645.06,221.43 L644.94,223.66 L644.83,225.79 L644.72,227.80 L644.61,229.71 L644.51,231.54 L644.40,233.28 L644.30,234.96 L644.19,236.57 L644.08,238.11 L643.96,239.59 L643.83,241.02 L643.69,242.39 L643.54,243.73 L643.38,245.00 L643.21,246.22 L643.03,247.37 L642.84,248.46 L642.64,249.50 L642.43,250.49 L642.21,251.44 L641.97,252.35 L641.72,253.22 L641.45,254.06 L641.16,254.88 L640.85,255.67 L640.52,256.44 L640.18,257.17 L639.82,257.85 L639.46,258.48 L639.10,259.05 L638.76,259.54 L638.43,259.96 L638.14,260.28 L637.90,260.48 L637.69,260.61 L637.49,260.68 L637.28,260.71 L637.06,260.71 L636.83,260.68 L636.59,260.62 L636.36,260.54 L636.12,260.44 L635.96,260.37 L635.90,260.33 L635.84,260.26 L635.74,260.11 L635.63,259.90 L635.52,259.66 L635.42,259.39 L635.33,259.12 L635.24,258.86 L635.15,258.61 L635.07,258.42 L633.33,259.18 L633.38,259.30 L633.45,259.48 L633.53,259.73 L633.64,260.04 L633.76,260.37 L633.92,260.72 L634.10,261.08 L634.34,261.44 L634.66,261.77 L635.04,262.03 L635.37,262.19 L635.69,262.32 L636.06,262.44 L636.47,262.54 L636.93,262.60 L637.42,262.61 L637.93,262.53 L638.46,262.36 L638.98,262.09 L639.46,261.72 L639.90,261.28 L640.34,260.79 L640.78,260.23 L641.22,259.61 L641.67,258.94 L642.11,258.22 L642.54,257.45 L642.96,256.64 L643.37,255.80 L643.75,254.94 L644.11,254.05 L644.45,253.14 L644.78,252.20 L645.10,251.21 L645.41,250.19 L645.71,249.11 L646.01,247.99 L646.29,246.81 L646.58,245.58 L646.86,244.27 L647.13,242.91 L647.40,241.51 L647.65,240.06 L647.89,238.56 L648.13,237.00 L648.37,235.38 L648.60,233.69 L648.82,231.94 L649.05,230.11 L649.28,228.20 L649.51,226.17 L649.74,224.03 L649.96,221.79 L650.17,219.48 L650.37,217.11 L650.56,214.71 L650.74,212.29 L650.90,209.88 L651.05,207.49 L651.18,205.15 L651.30,202.80 L651.40,200.39 L651.49,197.94 L651.56,195.49 L651.62,193.05 L651.67,190.66 L651.71,188.35 L651.75,186.14 L651.79,184.06 L651.84,182.13 L651.89,180.33 L651.93,178.64 L651.97,177.06 L652.01,175.57 L652.05,174.17 L652.10,172.85 L652.17,171.60 L652.24,170.42 L652.33,169.30 L652.44,168.23 L652.57,167.22 L652.71,166.29 L652.86,165.43 L653.02,164.65 L653.19,163.92 L653.38,163.26 L653.57,162.64 L653.78,162.07 L653.99,161.53 L654.21,161.04 L654.44,160.60 L654.67,160.22 L654.91,159.89 L655.16,159.59 L655.42,159.34 L655.68,159.12 L655.94,158.94 L656.20,158.78 L656.46,158.66 L656.70,158.56 L656.90,158.50 L657.11,158.47 L657.34,158.46 L657.58,158.48 L657.83,158.53 L658.09,158.61 L658.33,158.71 L658.57,158.84 L658.79,158.98 L658.97,159.11 L659.12,159.26 L659.29,159.49 L659.47,159.80 L659.65,160.16 L659.83,160.54 L660.00,160.93 L660.16,161.31 L660.30,161.66 L660.43,161.97 L660.54,162.20 Z" fill="#000"/><circle cx="661.10" cy="162.10" r="2.8" fill="#000"/><circle cx="634.50" cy="258.50" r="2.8" fill="#000"/>
<text transform="translate(669.60,169.02) scale(1.1772,1)" font-family="Liberation Serif" font-weight="bold" font-style="italic" font-size="39.28" >t</text>
<text transform="translate(684.77,175.60) scale(1.0828,1)" font-family="Liberation Serif" font-weight="bold" font-style="normal" font-size="29.15" >2</text>
<text transform="translate(651.70,270.32) scale(1.1985,1)" font-family="Liberation Serif" font-weight="bold" font-style="italic" font-size="38.59" >t</text>
<text transform="translate(665.62,278.00) scale(1.2017,1)" font-family="Liberation Serif" font-weight="bold" font-style="normal" font-size="28.93" >1</text>
<text transform="translate(704.26,222.49) scale(0.8464,1)" font-family="Liberation Serif" font-weight="bold" font-style="italic" font-size="47.17" stroke="#000" stroke-width="1.2">V</text>
<path d="M753.45,188.75 Q727.70,209.95 753.45,231.15" fill="none" stroke="#000" stroke-width="2.5" stroke-linecap="round"/>
<text transform="translate(756.52,223.47) scale(1.0920,1)" font-family="Liberation Serif" font-weight="bold" font-style="italic" font-size="53.78" >t</text>
<path d="M778.25,188.75 Q803.20,209.95 778.25,231.15" fill="none" stroke="#000" stroke-width="2.5" stroke-linecap="round"/>
<text transform="translate(798.99,222.90) scale(0.8324,1)" font-family="Liberation Serif" font-weight="bold" font-style="italic" font-size="47.80" stroke="#000" stroke-width="1.2">I</text>
<path d="M835.95,188.75 Q810.60,209.95 835.95,231.15" fill="none" stroke="#000" stroke-width="2.5" stroke-linecap="round"/>
<text transform="translate(839.28,223.47) scale(1.1193,1)" font-family="Liberation Serif" font-weight="bold" font-style="italic" font-size="53.78" >t</text>
<path d="M861.55,188.75 Q885.70,209.95 861.55,231.15" fill="none" stroke="#000" stroke-width="2.5" stroke-linecap="round"/>
<text transform="translate(881.47,223.52) scale(1.0912,1)" font-family="Liberation Serif" font-weight="bold" font-style="italic" font-size="48.89" >d</text>
<text transform="translate(912.32,223.47) scale(1.1535,1)" font-family="Liberation Serif" font-weight="bold" font-style="italic" font-size="53.78" >t</text>
<text transform="translate(947.42,225.45) scale(1.2442,1)" font-family="Liberation Serif" font-weight="normal" font-style="normal" font-size="48.62" >≈</text>
<text transform="translate(995.63,223.22) scale(1.2007,1)" font-family="Liberation Serif" font-weight="bold" font-style="normal" font-size="48.97" >29</text>
<text transform="translate(1066.54,223.70) scale(0.9854,1)" font-family="Liberation Serif" font-weight="bold" font-style="normal" font-size="51.57" >m</text>
<text transform="translate(1109.55,231.80) scale(0.5312,1)" font-family="Liberation Serif" font-weight="bold" font-style="normal" font-size="61.55" >J</text>
</g>
</svg>
</body></html>
